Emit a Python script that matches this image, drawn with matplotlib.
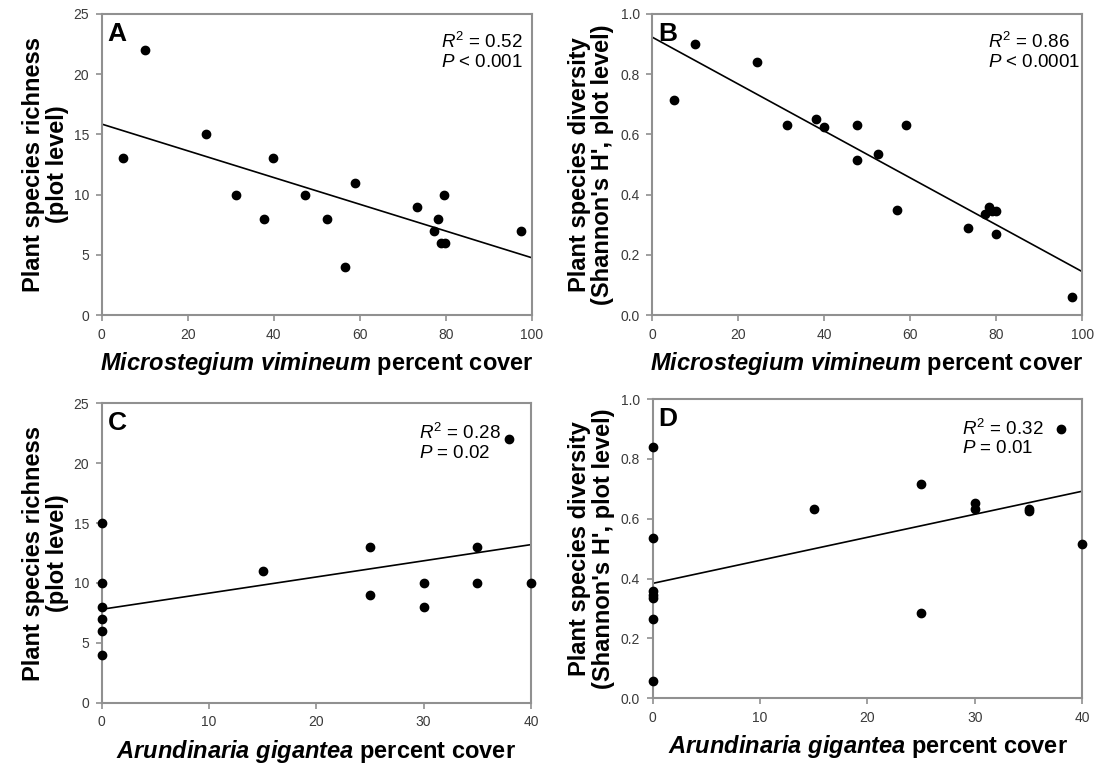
import matplotlib

matplotlib.use("Agg")
import matplotlib.pyplot as plt
import numpy as np

plt.rcParams["font.family"] = ["Liberation Sans", "DejaVu Sans"]
plt.rcParams["mathtext.fontset"] = "custom"
plt.rcParams["mathtext.rm"] = "Liberation Sans"
plt.rcParams["mathtext.it"] = "Liberation Sans:italic"
plt.rcParams["mathtext.bf"] = "Liberation Sans:bold"
plt.rcParams["mathtext.bfit"] = "Liberation Sans:italic:bold"

# panel A: Microstegium cover vs richness
mv_cover_a = [5, 10, 24.3, 31.2, 37.8, 39.8, 47.4, 52.4, 56.7, 58.9,
              73.3, 77.2, 78.1, 79.6, 78.8, 79.8, 97.4]
richness_a = [13, 22, 15, 10, 8, 13, 10, 8, 4, 11, 9, 7, 8, 10, 6, 6, 7]
# panel B: Microstegium cover vs Shannon H'
mv_cover_b = [5, 10, 24.4, 31.3, 38.1, 39.9, 47.5, 47.5, 52.5, 56.9,
              59.0, 73.5, 77.3, 78.3, 78.9, 79.9, 79.9, 97.6]
shannon_b = [0.714, 0.900, 0.840, 0.631, 0.650, 0.625, 0.631, 0.516, 0.536, 0.348,
             0.631, 0.288, 0.334, 0.360, 0.345, 0.345, 0.269, 0.061]
# panel C: Arundinaria cover vs richness
ag_cover_c = [0, 0, 0, 0, 0, 0, 15, 25, 25, 30, 30, 35, 35, 38, 40]
richness_c = [15, 10, 8, 7, 6, 4, 11, 13, 9, 10, 8, 13, 10, 22, 10]
# panel D: Arundinaria cover vs Shannon H'
ag_cover_d = [0, 0, 0, 0, 0, 0, 0, 15, 25, 25, 30, 30, 35, 35, 38, 40]
shannon_d = [0.841, 0.535, 0.358, 0.345, 0.334, 0.266, 0.059, 0.632, 0.717, 0.284,
             0.651, 0.633, 0.632, 0.625, 0.901, 0.516]

# fitted lines (intercept, slope)
fit_a = (15.86, -0.111)
fit_b = (0.923, -0.00779)
fit_c = (7.80, 0.135)
fit_d = (0.384, 0.0077)

stats = {
    "A": ("0.52", "<", "0.001"),
    "B": ("0.86", "<", "0.0001"),
    "C": ("0.28", "=", "0.02"),
    "D": ("0.32", "=", "0.01"),
}

GREY = "#909090"
TXT = "#3a3a3a"

fig = plt.figure(figsize=(10.99, 7.65), dpi=100)

pos = {
    "A": [0.0925, 0.5882, 0.3913, 0.3935],
    "B": [0.5935, 0.5882, 0.3913, 0.3935],
    "C": [0.0925, 0.0814, 0.3906, 0.3914],
    "D": [0.5939, 0.0872, 0.3909, 0.3912],
}

panels = [
    ("A", mv_cover_a, richness_a, fit_a, 100, 25, 20, 5,
     "Plant species richness\n(plot level)", "Microstegium\\ vimineum"),
    ("B", mv_cover_b, shannon_b, fit_b, 100, 1.0, 20, 0.2,
     "Plant species diversity\n(Shannon's H', plot level)", "Microstegium\\ vimineum"),
    ("C", ag_cover_c, richness_c, fit_c, 40, 25, 10, 5,
     "Plant species richness\n(plot level)", "Arundinaria\\ gigantea"),
    ("D", ag_cover_d, shannon_d, fit_d, 40, 1.0, 10, 0.2,
     "Plant species diversity\n(Shannon's H', plot level)", "Arundinaria\\ gigantea"),
]

stat_xy = {"A": (0.79, 0.875), "B": (0.78, 0.875), "C": (0.74, 0.87), "D": (0.72, 0.87)}

for key, x, y, fit, xmax, ymax, xstep, ystep, ylab, species in panels:
    ax = fig.add_axes(pos[key])
    ax.plot(x, y, "o", color="black", markersize=6, zorder=3, clip_on=False)
    xs = np.array([0, xmax])
    ax.plot(xs, fit[0] + fit[1] * xs, color="black", lw=1.2)
    ax.set_xlim(0, xmax)
    ax.set_ylim(0, ymax)
    ax.set_xticks(np.arange(0, xmax + 0.001, xstep))
    ax.set_yticks(np.arange(0, ymax + 0.0001, ystep))
    if ymax == 1.0:
        ax.set_yticklabels([f"{v:.1f}" for v in np.arange(0, 1.0001, 0.2)])
    for s in ax.spines.values():
        s.set_color(GREY)
        s.set_linewidth(1.5)
    ax.tick_params(direction="out", length=4, width=1.2, color=GREY,
                   labelsize=10, labelcolor=TXT, pad=5)
    ax.set_ylabel(ylab, fontsize=17, fontweight="bold", linespacing=1.05)
    ax.yaxis.set_label_coords(-0.076 if ymax == 25 else -0.088, 0.5)
    ax.set_xlabel(r"$\mathbfit{" + species + r"}$ percent cover",
                  fontsize=17, fontweight="bold", labelpad=6)
    ax.text(0.014, 0.975, key, transform=ax.transAxes, fontsize=19,
            fontweight="bold", va="top", ha="left")
    r2, op, p = stats[key]
    sx, sy = stat_xy[key]
    ax.text(sx, sy, r"$R^2$" + f" = {r2}\n" + r"$P$" + f" {op} {p}",
            transform=ax.transAxes, fontsize=13.5, va="center", ha="left",
            linespacing=1.15)

fig.savefig("out.png", dpi=100)
